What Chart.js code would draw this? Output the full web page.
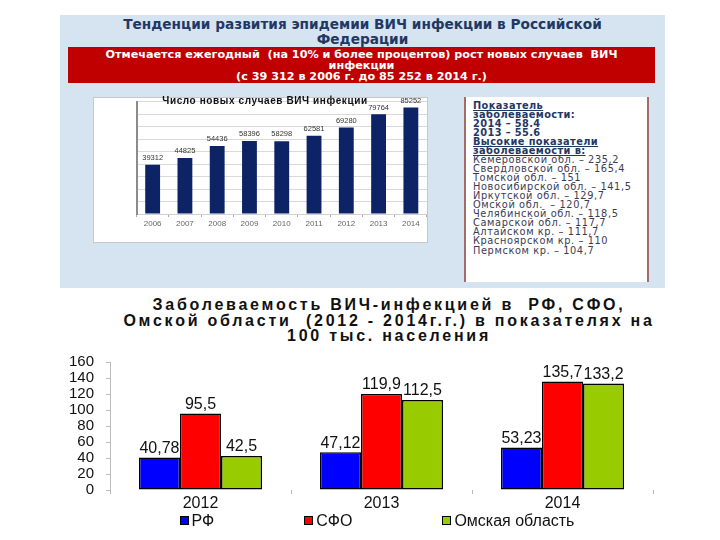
<!DOCTYPE html>
<html>
<head>
<meta charset="utf-8">
<script src="https://cdn.jsdelivr.net/npm/chart.js@4.4.0/dist/chart.umd.min.js"></script>
<style>
body{margin:0;width:720px;height:540px;background:#fff;position:relative;overflow:hidden;font-family:"Liberation Sans",Arial,sans-serif}
#panel{position:absolute;left:60px;top:15px;width:605px;height:273px;background:#d6e3f1}
#head{position:absolute;left:60px;top:17px;width:605px;text-align:center;color:#1f3864;font:bold 13.7px "DejaVu Sans";line-height:14.5px}
#band{position:absolute;left:68px;top:47px;width:587px;height:36px;background:#c00000;color:#fff;text-align:center;font:bold 11.2px "DejaVu Sans";line-height:11px;padding-top:1.5px;box-sizing:border-box}
#smallbox{position:absolute;left:93px;top:97px;width:335px;height:146px;background:#fff;border:1px solid #c8c8c8;box-sizing:border-box}
#smallTitle{position:absolute;left:140px;top:95px;width:250px;text-align:center;font:bold 10px "Liberation Sans";letter-spacing:0.6px;line-height:12px;color:#111}
#smallChart{position:absolute;left:93px;top:97px}
#info{position:absolute;left:464px;top:97px;width:185px;height:185px;background:#fff;border-left:2px solid #a56b6b;border-right:2px solid #a56b6b;box-sizing:border-box;padding:3.5px 0 0 7px;color:#3b3b55;font:9.8px "DejaVu Sans";letter-spacing:0.6px;line-height:9.06px;white-space:nowrap}
#info .h{color:#1f3864;font-weight:bold;letter-spacing:0.4px}
#info .u{text-decoration:underline}
#title{position:absolute;left:0;top:297px;width:778px;text-align:center;font:bold 16px "Liberation Sans";letter-spacing:2.75px;line-height:15.5px;color:#111}
#bigChart{position:absolute;left:0;top:290px}
#legend{position:absolute;left:0;top:512px;width:754px;display:flex;justify-content:center;gap:90px;font:16px "Liberation Sans";color:#111;line-height:18px}
#legend span.box{display:inline-block;width:7px;height:7px;border:1px solid #000;margin-right:3px;vertical-align:1px}
</style>
</head>
<body>
<div id="panel"></div>
<div id="head">Тенденции развития эпидемии ВИЧ инфекции в Российской<br>Федерации</div>
<div id="band">Отмечается ежегодный &nbsp;(на 10% и более процентов) рост новых случаев &nbsp;ВИЧ<br>инфекции<br>(с 39 312 в 2006 г. до 85 252 в 2014 г.)</div>
<div id="smallbox"></div>
<canvas id="smallChart" width="335" height="146"></canvas>
<div id="smallTitle">Число новых случаев ВИЧ инфекции</div>
<div id="info">
<span class="h u">Показатель</span><br>
<span class="h">заболеваемости:</span><br>
<span class="h">2014 – 58.4</span><br>
<span class="h">2013 – 55.6</span><br>
<span class="h u">Высокие показатели</span><br>
<span class="h u">заболеваемости в:</span><br>
Кемеровской обл. – 235,2<br>
Свердловской обл. – 165,4<br>
Томской обл. – 151<br>
Новосибирской обл. – 141,5<br>
Иркутской обл. – 129,7<br>
Омской обл. &nbsp;– 120,7<br>
Челябинской обл. – 118,5<br>
Самарской обл. – 117,7<br>
Алтайском кр. – 111,7<br>
Красноярском кр. – 110<br>
Пермском кр. – 104,7
</div>
<div id="title">Заболеваемость ВИЧ-инфекцией в &nbsp;РФ, СФО,<br>Омской области &nbsp;(2012 - 2014г.г.) в показателях на<br>100 тыс. населения</div>
<canvas id="bigChart" width="720" height="250"></canvas>
<div id="legend"></div>

<script>
// small chart: new HIV cases per year
const years = ['2006', '2007', '2008', '2009', '2010', '2011', '2012', '2013', '2014'];
const newCases = [39312, 44825, 54436, 58396, 58298, 62581, 69280, 79764, 85252];

// big chart: incidence per 100 000
const periods = ['2012', '2013', '2014'];
const seriesNames = ['РФ', 'СФО', 'Омская область'];
const rfValues = [40.78, 47.12, 53.23];
const sfoValues = [95.5, 119.9, 135.7];
const omskValues = [42.5, 112.5, 133.2];
const seriesColors = ['#0000ff', '#ff0000', '#99cc00'];

// value labels over the bars
const barLabels = {
    id: 'barLabels',
    afterDatasetsDraw(chart, args, opts) {
        const ctx = chart.ctx;
        ctx.save();
        ctx.font = opts.font;
        ctx.fillStyle = opts.color;
        ctx.textAlign = 'center';
        ctx.textBaseline = 'bottom';
        chart.data.datasets.forEach((ds, di) => {
            const meta = chart.getDatasetMeta(di);
            meta.data.forEach((bar, i) => {
                ctx.fillText(opts.format(ds.data[i]), bar.x, bar.y - opts.offset);
            });
        });
        ctx.restore();
    }
};

new Chart(document.getElementById('smallChart'), {
    type: 'bar',
    data: {
        labels: years,
        datasets: [{
            data: newCases,
            backgroundColor: '#0c2466',
            barPercentage: 0.46,
            categoryPercentage: 1
        }]
    },
    options: {
        responsive: false,
        animation: false,
        layout: { padding: { left: 43.5, right: 1, top: 4.5, bottom: 0 } },
        plugins: {
            legend: { display: false },
            tooltip: { enabled: false },
            barLabels: { font: '7.5px "Liberation Sans"', color: '#333', offset: 3, format: v => String(v) }
        },
        scales: {
            x: {
                grid: { display: true, drawOnChartArea: false, offset: true, tickLength: 3, color: '#aaa' },
                border: { color: '#d0d0d0' },
                ticks: { font: { size: 8, family: 'Liberation Sans' }, color: '#666', padding: 2 },
                afterFit(s) { s.height = 29; }
            },
            y: {
                min: 0, max: 90000,
                ticks: { display: false, stepSize: 10000 },
                grid: { color: '#d9d9d9', drawTicks: false },
                border: { color: '#8c8c8c', width: 2 },
                afterFit(s) { s.width = 0; }
            }
        }
    },
    plugins: [barLabels]
});

const bigChart = new Chart(document.getElementById('bigChart'), {
    type: 'bar',
    data: {
        labels: periods,
        datasets: [rfValues, sfoValues, omskValues].map((vals, i) => ({
            label: seriesNames[i],
            data: vals,
            backgroundColor: seriesColors[i],
            borderColor: '#000',
            borderWidth: 1.5,
            borderSkipped: false,
            barPercentage: 1,
            categoryPercentage: 0.68
        }))
    },
    options: {
        responsive: false,
        animation: false,
        layout: { padding: { left: 0, right: 67, top: 72, bottom: 0 } },
        plugins: {
            legend: { display: false },
            tooltip: { enabled: false },
            barLabels: { font: '16px "Liberation Sans"', color: '#111', offset: 1, format: v => String(v).replace('.', ',') }
        },
        scales: {
            x: {
                grid: { display: true, drawOnChartArea: false, offset: true, tickLength: 4, color: '#bbb' },
                border: { display: false },
                ticks: { font: { size: 16, family: 'Liberation Sans' }, color: '#111', padding: 0 },
                afterFit(s) { s.height = 50; }
            },
            y: {
                min: 0, max: 160,
                ticks: { stepSize: 20, autoSkip: false, font: { size: 15, family: 'Liberation Sans' }, color: '#111', padding: 12 },
                grid: { drawOnChartArea: false, tickLength: 4, color: '#bbb' },
                border: { color: '#bbb' },
                afterFit(s) { s.width = 110; }
            }
        }
    },
    plugins: [barLabels]
});

// html legend built from the chart's own legend items
const legendBox = document.getElementById('legend');
bigChart.options.plugins.legend.labels.generateLabels(bigChart).forEach(item => {
    const el = document.createElement('div');
    const sq = document.createElement('span');
    sq.className = 'box';
    sq.style.background = item.fillStyle;
    el.appendChild(sq);
    el.appendChild(document.createTextNode(item.text));
    legendBox.appendChild(el);
});
</script>
</body>
</html>
